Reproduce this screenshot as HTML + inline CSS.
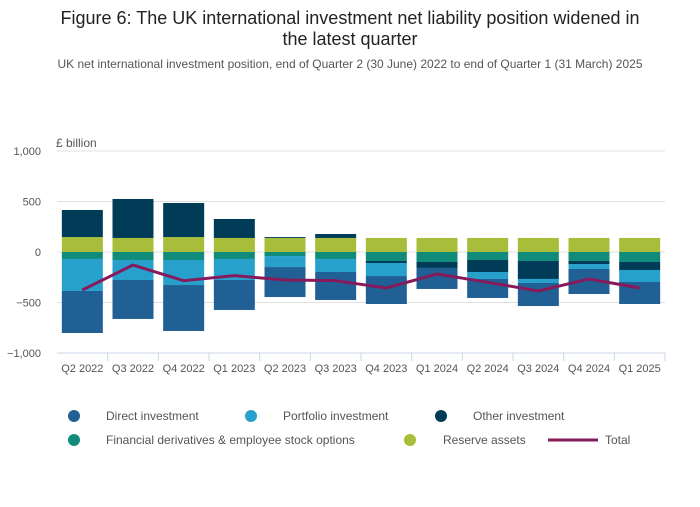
<!DOCTYPE html>
<html><head><meta charset="utf-8"><style>
body{margin:0;background:#fff;font-family:"Liberation Sans",sans-serif;}
svg text{font-family:"Liberation Sans",sans-serif;}
</style></head><body>
<svg width="700" height="502" viewBox="0 0 700 502">
<text x="350" y="24" text-anchor="middle" font-size="18" fill="#222">Figure 6: The UK international investment net liability position widened in</text>
<text x="350" y="45" text-anchor="middle" font-size="18" fill="#222">the latest quarter</text>
<text x="350" y="68" text-anchor="middle" font-size="12" fill="#555">UK net international investment position, end of Quarter 2 (30 June) 2022 to end of Quarter 1 (31 March) 2025</text>
<text x="56" y="147" font-size="12" fill="#555">£ billion</text>
<g id="grid"></g><g id="bars"></g><g id="line"></g><g id="axes"></g>
<g font-size="12" fill="#555">
<circle cx="74" cy="416" r="6" fill="#206095"/><text x="106" y="420">Direct investment</text>
<circle cx="251" cy="416" r="6" fill="#27a0cc"/><text x="283" y="420">Portfolio investment</text>
<circle cx="441" cy="416" r="6" fill="#003c57"/><text x="473" y="420">Other investment</text>
<circle cx="74" cy="440" r="6" fill="#118c7b"/><text x="106" y="444">Financial derivatives &amp; employee stock options</text>
<circle cx="410" cy="440" r="6" fill="#a8bd3a"/><text x="443" y="444">Reserve assets</text>
<line x1="548" y1="440" x2="598" y2="440" stroke="#871a5b" stroke-width="3"/><text x="605" y="444">Total</text>
</g>
</svg>
<script>
const categories=["Q2 2022","Q3 2022","Q4 2022","Q1 2023","Q2 2023","Q3 2023","Q4 2023","Q1 2024","Q2 2024","Q3 2024","Q4 2024","Q1 2025"];
const direct=[-416,-386,-455,-297,-297,-277,-277,-208,-188,-228,-248,-218];
const portfolio=[-317,-198,-248,-208,-109,-129,-129,0,-69,-40,-49,-119];
const other=[268,386,337,188,9,39,-20,-59,-119,-178,-30,-79];
const derivatives=[-69,-79,-79,-69,-40,-69,-89,-99,-79,-89,-89,-99];
const reserve=[148,139,148,139,139,139,139,139,139,139,139,139];
const total=[-376,-129,-284,-234,-277,-284,-356,-218,-300,-386,-267,-356];
const yTicks=[1000,500,0,-500,-1000];
const yTickLabels=["1,000","500","0","−500","−1,000"];
const NS="http://www.w3.org/2000/svg";
const X0=57,X1=665,Y0=252,PPU=0.101;
const step=(X1-X0)/categories.length;
const xC=i=>X0+step*(i+0.5);
const y=v=>Y0-v*PPU;
function mk(tag,attrs,parent){const e=document.createElementNS(NS,tag);for(const k in attrs)e.setAttribute(k,attrs[k]);document.getElementById(parent).appendChild(e);return e;}
yTicks.forEach((t,i)=>{
 const l=mk('line',{x1:X0,x2:X1,y1:y(t),y2:y(t),stroke:'#e0e0e0'},'grid');
 
 
 const tx=mk('text',{x:41,y:y(t)+4,'text-anchor':'end','font-size':11,fill:'#555'},'axes');
 tx.textContent=yTickLabels[i];
 
 
});
const ax=mk('line',{x1:X0,x2:X1,y1:y(-1000),y2:y(-1000),stroke:'#ccd6eb'},'axes');


categories.forEach((c,i)=>{
 const tk=mk('line',{x1:X0+step*(i+1),x2:X0+step*(i+1),y1:y(-1000),y2:y(-1000)+8,stroke:'#ccd6eb'},'axes');
 
 
 const tx=mk('text',{x:xC(i),y:372,'text-anchor':'middle','font-size':11,fill:'#555'},'axes');
 tx.textContent=c;
 
 
});
const series=[["reserve",reserve,"#a8bd3a"],["derivatives",derivatives,"#118c7b"],["other",other,"#003c57"],["portfolio",portfolio,"#27a0cc"],["direct",direct,"#206095"]];
const bw=41;
categories.forEach((c,i)=>{
 let pos=0,neg=0;
 series.forEach(([n,arr,col])=>{
  const v=arr[i];if(v===0)return;
  let a,b;
  if(v>0){a=pos;b=pos+v;pos=b;}else{a=neg;b=neg+v;neg=b;}
  const r=mk('rect',{x:xC(i)-bw/2,width:bw,y:Math.min(y(a),y(b)),height:Math.abs(y(a)-y(b)),fill:col},'bars');
  
  
 });
});
const pl=mk('polyline',{points:total.map((v,i)=>xC(i)+','+y(v)).join(' '),fill:'none',stroke:'#871a5b','stroke-width':3,'stroke-linejoin':'round'},'line');


</script>
</body></html>
